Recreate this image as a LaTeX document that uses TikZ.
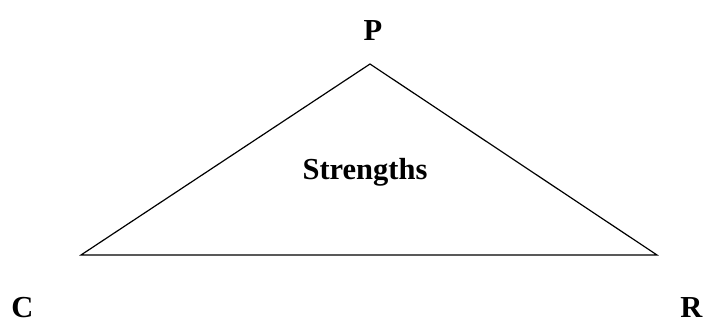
\documentclass[tikz,border=0pt]{standalone}
\usepackage{fontspec}
\setmainfont{Liberation Serif}
\begin{document}
\begin{tikzpicture}[x=1pt,y=1pt,
  lbl/.style={font=\fontsize{30.5}{30.5}\selectfont\bfseries, inner sep=0pt, anchor=base},
  edge/.style={line width=1.2pt, line join=miter}]
\useasboundingbox (0,0) rectangle (704,325);
\coordinate (top) at (370,261);
\coordinate (left) at (81,70);
\coordinate (right) at (657,70);
\draw[edge] (top) -- (left) -- (right) -- cycle;
\node[lbl] (p) at (373,285) {P};
\node[lbl] (s) at (365,146) {Strengths};
\node[lbl] (c) at (22.5,7.5) {C};
\node[lbl] (r) at (691.5,7.5) {R};
\end{tikzpicture}
\end{document}
